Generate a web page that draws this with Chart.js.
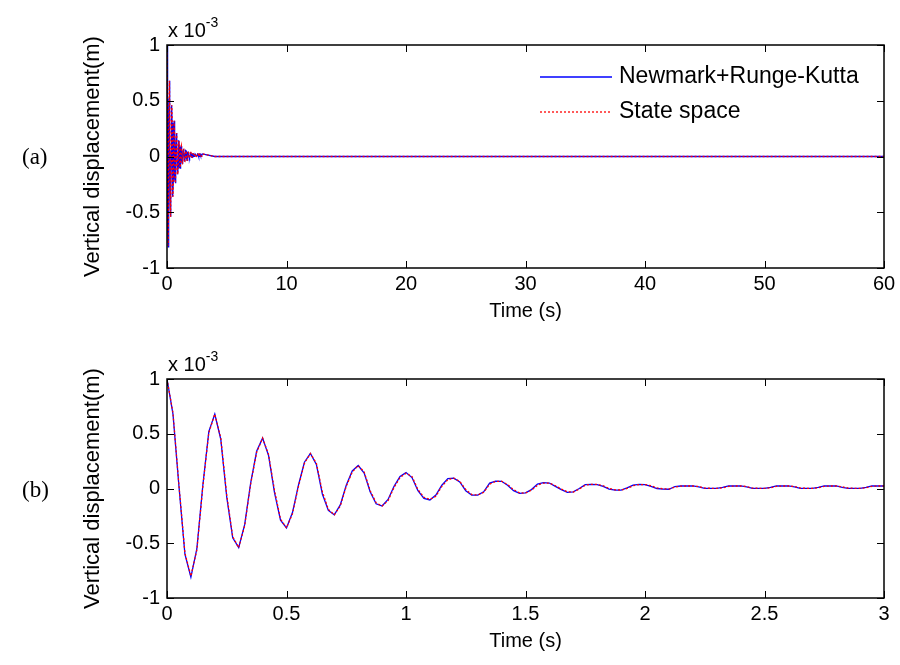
<!DOCTYPE html>
<html>
<head>
<meta charset="utf-8">
<script src="https://cdn.jsdelivr.net/npm/chart.js@4.4.0/dist/chart.umd.min.js"></script>
<style>
  html, body { margin: 0; padding: 0; background: #fff; }
  #wrap { position: relative; width: 900px; height: 665px; overflow: hidden; }
  canvas { position: absolute; left: 0; }
  #chartA { top: 0; }
  #chartB { top: 335px; }
  .tag { position: absolute; font-family: "Liberation Serif", "Times New Roman", serif; font-size: 23px; color: #000; }
  .exp { position: absolute; font-family: "Liberation Sans", Arial, sans-serif; font-size: 20px; color: #000; line-height: 1; white-space: nowrap; }
  .exp sup { font-size: 14px; position: relative; top: -2px; }
</style>
</head>
<body>
<div id="wrap">
  <canvas id="chartA" width="900" height="335"></canvas>
  <canvas id="chartB" width="900" height="330"></canvas>
  <div class="tag" style="left:22px; top:144px;">(a)</div>
  <div class="tag" style="left:22px; top:477px;">(b)</div>
  <div class="exp" style="left:168px; top:17px;">x 10<sup>-3</sup></div>
  <div class="exp" style="left:168px; top:351px;">x 10<sup>-3</sup></div>
</div>
<script>
// time axis (s), sampled every 0.025 s over the first 3 s
const timeS = [
  0, 0.025, 0.05, 0.075, 0.1, 0.125, 0.15, 0.175, 0.2, 0.225,
  0.25, 0.275, 0.3, 0.325, 0.35, 0.375, 0.4, 0.425, 0.45, 0.475,
  0.5, 0.525, 0.55, 0.575, 0.6, 0.625, 0.65, 0.675, 0.7, 0.725,
  0.75, 0.775, 0.8, 0.825, 0.85, 0.875, 0.9, 0.925, 0.95, 0.975,
  1, 1.025, 1.05, 1.075, 1.1, 1.125, 1.15, 1.175, 1.2, 1.225,
  1.25, 1.275, 1.3, 1.325, 1.35, 1.375, 1.4, 1.425, 1.45, 1.475,
  1.5, 1.525, 1.55, 1.575, 1.6, 1.625, 1.65, 1.675, 1.7, 1.725,
  1.75, 1.775, 1.8, 1.825, 1.85, 1.875, 1.9, 1.925, 1.95, 1.975,
  2, 2.025, 2.05, 2.075, 2.1, 2.125, 2.15, 2.175, 2.2, 2.225,
  2.25, 2.275, 2.3, 2.325, 2.35, 2.375, 2.4, 2.425, 2.45, 2.475,
  2.5, 2.525, 2.55, 2.575, 2.6, 2.625, 2.65, 2.675, 2.7, 2.725,
  2.75, 2.775, 2.8, 2.825, 2.85, 2.875, 2.9, 2.925, 2.95, 2.975,
  3
];

// vertical displacement (x 10^-3 m)
const newmarkRK = [
  1.00, 0.68, 0.02, -0.60, -0.81, -0.55, 0.03, 0.52, 0.68, 0.45,
  -0.08, -0.45, -0.54, -0.33, 0.05, 0.34, 0.46, 0.30, -0.04, -0.29,
  -0.36, -0.22, 0.03, 0.24, 0.32, 0.22, -0.05, -0.20, -0.24, -0.15,
  0.03, 0.16, 0.21, 0.14, -0.03, -0.14, -0.16, -0.10, 0.02, 0.11,
  0.145, 0.10, -0.02, -0.09, -0.105, -0.06, 0.03, 0.09, 0.095, 0.06,
  -0.02, -0.06, -0.06, -0.03, 0.05, 0.068, 0.066, 0.03, -0.02, -0.044,
  -0.04, -0.01, 0.04, 0.053, 0.05, 0.02, -0.01, -0.035, -0.03, 0.00,
  0.035, 0.038, 0.036, 0.02, -0.005, -0.014, -0.014, 0.005, 0.03, 0.038,
  0.036, 0.02, 0.00, -0.005, -0.007, 0.018, 0.023, 0.023, 0.023, 0.015,
  0.002, 0.002, 0.002, 0.01, 0.023, 0.023, 0.023, 0.015, 0.002, 0.002,
  0.002, 0.01, 0.023, 0.023, 0.023, 0.015, 0.002, 0.002, 0.002, 0.01,
  0.023, 0.023, 0.023, 0.01, 0.002, 0.002, 0.002, 0.01, 0.023, 0.023,
  0.023
];

const stateSpace = [
  1.00, 0.69, 0.03, -0.59, -0.80, -0.56, 0.02, 0.51, 0.68, 0.46,
  -0.06, -0.44, -0.54, -0.34, 0.04, 0.33, 0.46, 0.31, -0.02, -0.28,
  -0.36, -0.23, 0.02, 0.23, 0.32, 0.23, -0.03, -0.19, -0.24, -0.16,
  0.02, 0.15, 0.21, 0.15, -0.02, -0.13, -0.16, -0.11, 0.01, 0.10,
  0.14, 0.11, -0.01, -0.08, -0.10, -0.07, 0.02, 0.08, 0.095, 0.065,
  -0.01, -0.055, -0.06, -0.035, 0.04, 0.065, 0.066, 0.035, -0.01, -0.04,
  -0.042, -0.015, 0.03, 0.05, 0.05, 0.025, -0.005, -0.03, -0.032, -0.005,
  0.03, 0.038, 0.037, 0.025, 0.00, -0.012, -0.014, 0.00, 0.025, 0.036,
  0.036, 0.025, 0.005, -0.003, -0.005, 0.012, 0.022, 0.023, 0.023, 0.018,
  0.004, 0.002, 0.002, 0.006, 0.02, 0.023, 0.023, 0.018, 0.004, 0.002,
  0.002, 0.006, 0.02, 0.023, 0.023, 0.018, 0.004, 0.002, 0.002, 0.006,
  0.02, 0.023, 0.023, 0.015, 0.004, 0.002, 0.002, 0.006, 0.02, 0.023,
  0.023
];

// long run after the transient (plot a only)
const tailTime = [4, 60];
const tailValue = [0, 0];

const yTicks = [-1, -0.5, 0, 0.5, 1];
const xTicksA = [0, 10, 20, 30, 40, 50, 60];
const xTicksB = [0, 0.5, 1, 1.5, 2, 2.5, 3];

const FONT = '"Liberation Sans", Arial, sans-serif';
Chart.defaults.font.family = FONT;
Chart.defaults.font.size = 20;
Chart.defaults.color = '#000';

function toPoints(xs, ys) {
  return xs.map((x, i) => ({ x: x, y: ys[i] }));
}

// matlab-style box with inward ticks
const boxFrame = {
  id: 'boxFrame',
  afterDatasetsDraw(chart) {
    const { ctx, chartArea: a } = chart;
    const x = chart.scales.x, y = chart.scales.y;
    ctx.save();
    ctx.strokeStyle = '#000';
    ctx.lineWidth = 1;
    ctx.beginPath();
    x.ticks.forEach(t => {
      const px = Math.round(x.getPixelForValue(t.value)) + 0.5;
      ctx.moveTo(px, a.bottom); ctx.lineTo(px, a.bottom - 7);
      ctx.moveTo(px, a.top); ctx.lineTo(px, a.top + 7);
    });
    y.ticks.forEach(t => {
      const py = Math.round(y.getPixelForValue(t.value)) + 0.5;
      ctx.moveTo(a.left, py); ctx.lineTo(a.left + 7, py);
      ctx.moveTo(a.right, py); ctx.lineTo(a.right - 7, py);
    });
    ctx.stroke();
    ctx.lineWidth = 1.5;
    ctx.strokeRect(a.left, a.top, a.right - a.left, a.bottom - a.top);
    ctx.restore();
  }
};

// legend without box, inside plot a
const insideLegend = {
  id: 'insideLegend',
  afterDraw(chart) {
    const { ctx, chartArea: a } = chart;
    const items = [chart.data.datasets[0], chart.data.datasets[1]];
    items.forEach((ds, i) => {
      const yy = a.top + 32 + i * 35;
      const x0 = a.left + 373;
      ctx.save();
      ctx.strokeStyle = ds.borderColor;
      ctx.lineWidth = ds.borderWidth;
      ctx.setLineDash(ds.borderDash || []);
      ctx.beginPath();
      ctx.moveTo(x0, yy); ctx.lineTo(x0 + 72, yy);
      ctx.stroke();
      ctx.setLineDash([]);
      ctx.fillStyle = '#000';
      ctx.font = '23px ' + FONT;
      ctx.textBaseline = 'middle';
      ctx.fillText(ds.label, x0 + 79, yy);
      ctx.restore();
    });
  }
};

function makeChart(id, xs, blue, red, xMax, xTicks, padTop, withLegend) {
  const plugins = [boxFrame];
  if (withLegend) plugins.push(insideLegend);
  return new Chart(document.getElementById(id), {
    type: 'line',
    data: {
      datasets: [
        {
          label: 'Newmark+Runge-Kutta',
          data: toPoints(xs, blue),
          borderColor: '#0000ff',
          borderWidth: 1.3,
          pointRadius: 0,
          tension: 0,
          order: 1
        },
        {
          label: 'State space',
          data: toPoints(xs, red),
          borderColor: '#ff0000',
          borderWidth: 1.3,
          borderDash: [2, 2],
          pointRadius: 0,
          tension: 0,
          order: 0
        }
      ]
    },
    options: {
      responsive: false,
      animation: false,
      devicePixelRatio: 1,
      layout: { padding: { top: padTop, right: 16, left: 0, bottom: 0 } },
      plugins: { legend: { display: false }, tooltip: { enabled: false } },
      scales: {
        x: {
          type: 'linear',
          min: 0,
          max: xMax,
          grid: { display: false, drawTicks: false },
          border: { display: false },
          afterBuildTicks: s => { s.ticks = xTicks.map(v => ({ value: v })); },
          afterFit: s => { s.height = 67; },
          ticks: { padding: 4, maxRotation: 0, callback: v => String(v) },
          title: { display: true, text: 'Time (s)', padding: { top: 0, bottom: 12 } }
        },
        y: {
          type: 'linear',
          min: -1,
          max: 1,
          grid: { display: false, drawTicks: false },
          border: { display: false },
          afterBuildTicks: s => { s.ticks = yTicks.map(v => ({ value: v })); },
          afterFit: s => { s.width = 167; },
          ticks: { padding: 7, callback: v => String(v) },
          title: { display: true, text: 'Vertical displacement(m)', font: { size: 22 }, padding: { top: 80, bottom: 0 } }
        }
      }
    },
    plugins: plugins
  });
}

makeChart('chartA', timeS.concat(tailTime), newmarkRK.concat(tailValue), stateSpace.concat(tailValue),
  60, xTicksA, 45, true);
makeChart('chartB', timeS, newmarkRK, stateSpace, 3, xTicksB, 44, false);
</script>
</body>
</html>
